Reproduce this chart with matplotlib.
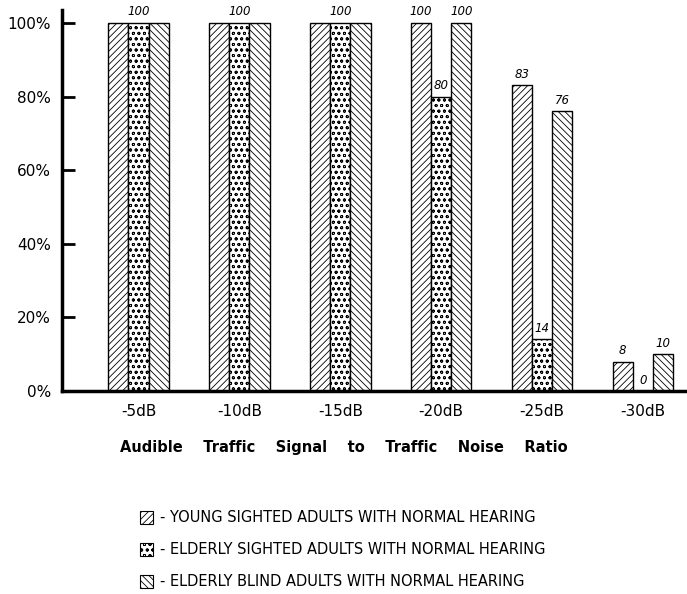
import numpy as np
import matplotlib

matplotlib.use("Agg")
import matplotlib.pyplot as plt
from matplotlib.patches import Rectangle

plt.rcParams["hatch.linewidth"] = 0.6

RATIOS = ["-5dB", "-10dB", "-15dB", "-20dB", "-25dB", "-30dB"]
YOUNG = [100, 100, 100, 100, 83, 8]
ELDERLY = [100, 100, 100, 80, 14, 0]
BLIND = [100, 100, 100, 100, 76, 10]
SHOW_LABEL = [
    [False, True, False],
    [False, True, False],
    [False, True, False],
    [True, True, True],
    [True, True, True],
    [True, True, True],
]
SERIES = ["YOUNG SIGHTED ADULTS WITH NORMAL HEARING",
          "ELDERLY SIGHTED ADULTS WITH NORMAL HEARING",
          "ELDERLY BLIND ADULTS WITH NORMAL HEARING"]
HATCHES = ["/////", "ooo", "\\\\\\\\\\"]

W, H = 687, 594
fig = plt.figure(figsize=(W / 100, H / 100), dpi=100)
ax = fig.add_axes([62 / W, 1 - 391 / H, 1 - 62 / W, 381 / H])

x = np.arange(len(RATIOS))
w = 0.2
for k, (vals, hatch) in enumerate(zip([YOUNG, ELDERLY, BLIND], HATCHES)):
    xs = x + (k - 1) * w
    ax.bar(xs, vals, w, color="white", edgecolor="black", hatch=hatch, lw=1.0)
    for i, v in enumerate(vals):
        if SHOW_LABEL[i][k]:
            ax.text(xs[i], v + 1.2, str(v), ha="center", va="bottom",
                    fontsize=8.5, style="italic")

ax.set_xlim(-0.758, 5.436)
ax.set_ylim(0, 103.5)
ax.set_yticks([0, 20, 40, 60, 80, 100])
ax.set_yticklabels([f"{t}%" for t in [0, 20, 40, 60, 80, 100]], fontsize=11)
ax.set_xticks(x)
ax.set_xticklabels(RATIOS, fontsize=11)
ax.tick_params(axis="y", direction="in", length=9, width=2, pad=8)
ax.tick_params(axis="x", length=0, pad=9)
for s in ("top", "right"):
    ax.spines[s].set_visible(False)
for s in ("left", "bottom"):
    ax.spines[s].set_linewidth(2.5)
ax.set_xlabel("Audible    Traffic    Signal    to    Traffic    Noise    Ratio",
              fontsize=10.5, weight="bold")
ax.xaxis.set_label_coords((344 - 62) / (W - 62), -0.128)

# legend drawn by hand below the axes
for k, (name, hatch) in enumerate(zip(SERIES, HATCHES)):
    yb = 1 - (518 + 32 * k) / H
    fig.patches.append(Rectangle((140 / W, yb - 6 / H), 13 / W, 13 / H,
                                 transform=fig.transFigure, fc="white", ec="black",
                                 hatch=hatch, lw=0.8))
    fig.text(160 / W, yb, "- " + name, ha="left", va="center", fontsize=10.5)

fig.savefig("out.png", dpi=100, facecolor="white")
